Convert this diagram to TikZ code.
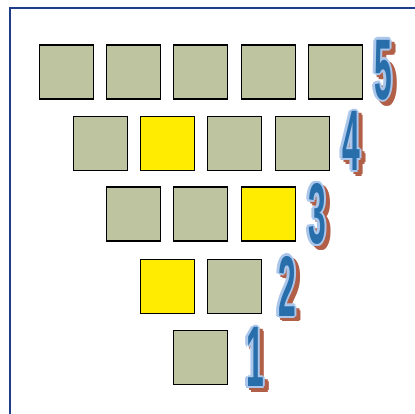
\documentclass[tikz,border=0pt]{standalone}
\usepackage{fontspec}
\setmainfont{Liberation Sans}
\usetikzlibrary{calc}
\definecolor{sqfill}{RGB}{190,195,160}
\definecolor{sqyellow}{RGB}{255,236,0}
\definecolor{framec}{RGB}{30,62,140}
\definecolor{digblue}{RGB}{40,110,170}
\definecolor{digout}{RGB}{170,198,235}
\definecolor{digshadow}{RGB}{178,95,72}
\tikzset{
  sq/.style={draw=black, line width=1.2pt, fill=sqfill, minimum size=54pt, inner sep=0pt},
  ysq/.style={sq, fill=sqyellow},
  dig/.style={inner sep=0pt, font=\fontsize{86}{86}\selectfont\bfseries},
}
\newcommand\bigdigit[3]{%
  \foreach \a in {0,60,...,300}{
    \node[dig, text=digshadow] (s#3\a) at ($(#1+4,#2+4)+(\a:2.2)$) {\scalebox{0.37}[1]{#3}};
  }
  \foreach \a in {0,45,...,315}{
    \node[dig, text=digout] (o#3\a) at ($(#1,#2)+(\a:2.2)$) {\scalebox{0.37}[1]{#3}};
  }
  \node[dig, text=digblue] (d#3) at (#1,#2) {\scalebox{0.37}[1]{#3}};
}
\begin{document}
\begin{tikzpicture}[x=1pt,y=-1pt]
\useasboundingbox (0,0) rectangle (415,414);
\draw[framec, line width=2pt] (10,420) -- (10,8) -- (420,8);
% row 5
\node[sq] (r5a) at (66.5,72) {};
\node[sq] (r5b) at (133.5,72) {};
\node[sq] (r5c) at (200.5,72) {};
\node[sq] (r5d) at (268.5,72) {};
\node[sq] (r5e) at (335.5,72) {};
% row 4
\node[sq] (r4a) at (100.5,143.5) {};
\node[ysq] (r4b) at (167.5,143.5) {};
\node[sq] (r4c) at (234.5,143.5) {};
\node[sq] (r4d) at (302.5,143.5) {};
% row 3
\node[sq] (r3a) at (133.5,214) {};
\node[sq] (r3b) at (200.5,214) {};
\node[ysq] (r3c) at (268.5,214) {};
% row 2
\node[ysq] (r2a) at (167.5,286.5) {};
\node[sq] (r2b) at (234.5,286.5) {};
% row 1
\node[sq] (r1a) at (200.5,357.5) {};
% digits
\bigdigit{383}{70}{5}
\bigdigit{351}{141}{4}
\bigdigit{317}{214}{3}
\bigdigit{287}{286}{2}
\bigdigit{255}{357}{1}
\end{tikzpicture}
\end{document}
